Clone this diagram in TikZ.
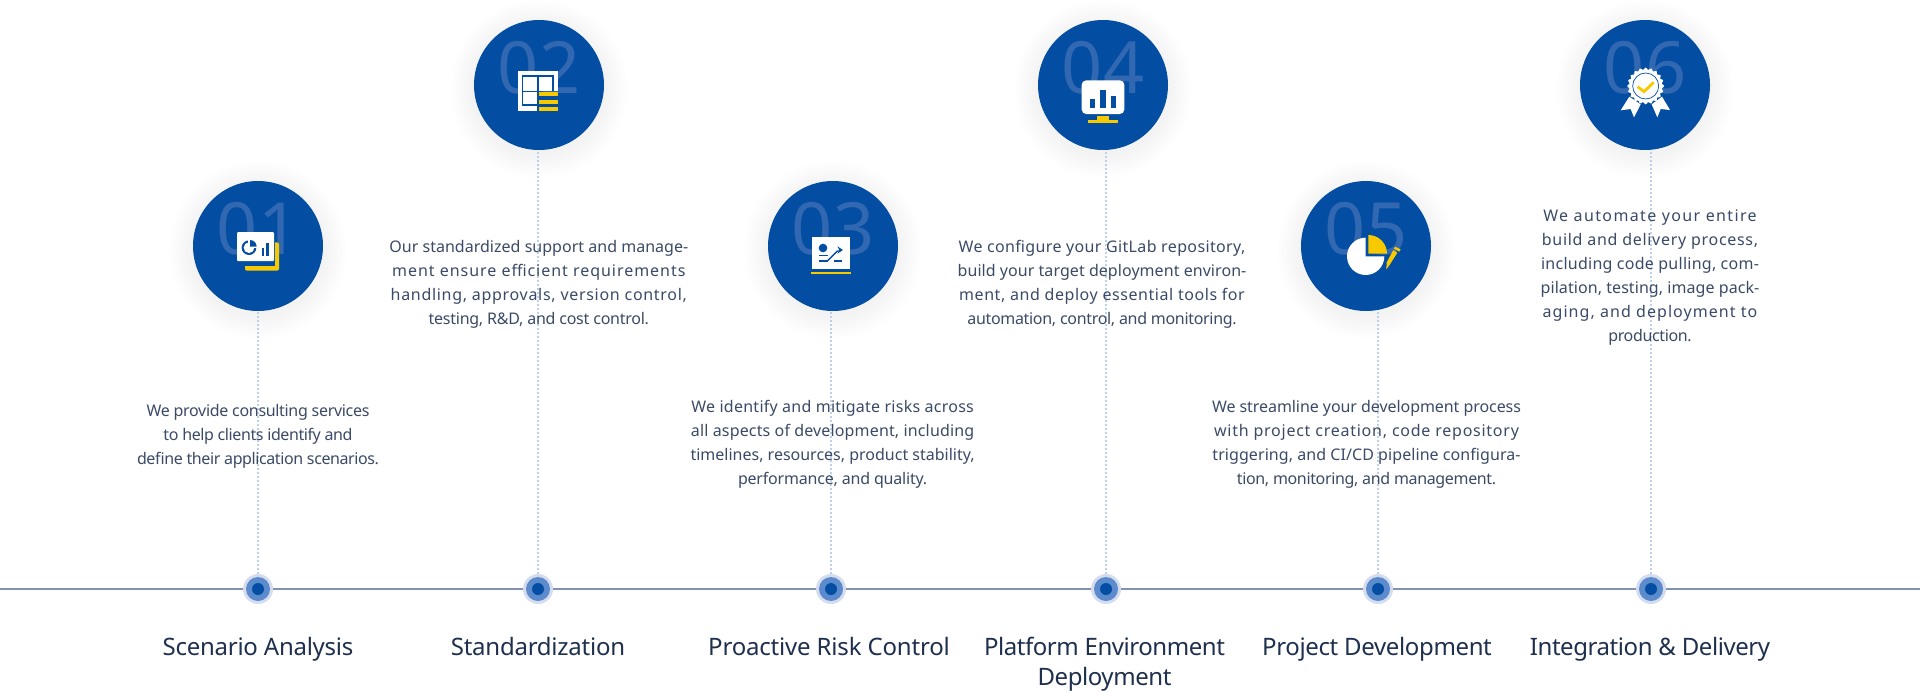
\documentclass[tikz,border=0pt]{standalone}
\usepackage{fontspec}
\setmainfont{Noto Sans}
\definecolor{brand}{HTML}{034EA2}
\definecolor{digit}{HTML}{3168B1}
\definecolor{gold}{HTML}{F9C900}
\definecolor{ink}{HTML}{3B4A66}
\definecolor{titleink}{HTML}{1F304E}
\definecolor{axis}{HTML}{8490B4}
\definecolor{drop}{HTML}{BDD0E9}
\definecolor{halo}{HTML}{D5DCEE}
\definecolor{ringc}{HTML}{5B8BCC}
% set one line to a given width W (px) by letter spacing: {W}{characters}{size}{text}
\newcommand{\fitline}[4]{\strut\begingroup\setbox0\hbox{#4}%
  \pgfmathsetmacro\lsv{(#1-\the\wd0)/(#2*#3)*100}%
  \addfontfeature{LetterSpace=\lsv}#4\endgroup}
\newcommand{\bl}[3]{\fitline{#1}{#2}{16}{#3}}
\newcommand{\hl}[3]{\fitline{#1}{#2}{24}{#3}}
\tikzset{
  x=1pt,y=-1pt,
  bubble/.style={circle,fill=brand,minimum size=130pt,inner sep=0pt,outer sep=0pt},
  numeral/.style={text=digit,font=\fontsize{72}{72}\selectfont,inner sep=0pt},
  stopdot/.style={circle,fill=halo,minimum size=30pt,inner sep=0pt,outer sep=0pt},
  dropline/.style={draw=drop,line width=1.5pt,dash pattern=on 2pt off 2pt},
  axisline/.style={draw=axis,line width=1.5pt},
  body/.style={text=ink,align=center,inner sep=0pt,font=\fontsize{16}{24}\selectfont},
  heading/.style={text=titleink,align=center,inner sep=0pt,font=\fontsize{24}{30}\selectfont},
}
\begin{document}
\begin{tikzpicture}
\useasboundingbox (0,0) rectangle (1920,691);
\fill[white] (0,0) rectangle (1920,691);
% bubbles
\foreach \i/\x/\y in {1/258/246,2/539/85,3/833/246,4/1103/85,5/1366/246,6/1645/85}{
  \foreach \r in {2,4,...,24}{\fill[black,opacity=.0028] (\x,\y+4) circle ({65+\r});}
  \node[bubble] (c\i) at (\x,\y) {};
  \node[numeral] (n\i) at (\x,\y-17) {0\i};
}
% axis
\coordinate (axisL) at (0,589);
\coordinate (axisR) at (1920,589);
\draw[axisline] (axisL) -- (axisR);
% stops
\foreach \i/\x in {1/258,2/538,3/831,4/1106,5/1378,6/1651}{
  \node[stopdot] (d\i) at (\x,589) {};
  \draw[dropline] (d\i) -- (d\i |- c\i.south);
  \fill[ringc] (d\i) circle (12);
  \fill[brand] (d\i) circle (6);
}
% text
\node[body] (t1) at (258,435.5) {\bl{221.6}{30}{We provide consulting services}\\\bl{187}{28}{to help clients identify and}\\\bl{240}{35}{define their application scenarios.}};
\node[body] (t2) at (538.8,283.2) {\bl{299}{36}{Our standardized support and manage-}\\\bl{299}{34}{ment ensure efficient requirements}\\\bl{299}{37}{handling, approvals, version control,}\\\bl{219}{31}{testing, R\&D, and cost control.}};
\node[body] (t3) at (832.6,443.4) {\bl{284}{37}{We identify and mitigate risks across}\\\bl{284}{37}{all aspects of development, including}\\\bl{284}{40}{timelines, resources, product stability,}\\\bl{188.6}{25}{performance, and quality.}};
\node[body] (t4) at (1102,283.2) {\bl{289}{36}{We configure your GitLab repository,}\\\bl{289}{37}{build your target deployment environ-}\\\bl{289}{36}{ment, and deploy essential tools for}\\\bl{268}{36}{automation, control, and monitoring.}};
\node[body] (t5) at (1366.5,443.4) {\bl{308.6}{38}{We streamline your development process}\\\bl{308.6}{38}{with project creation, code repository}\\\bl{308.6}{41}{triggering, and CI/CD pipeline configura-}\\\bl{258}{33}{tion, monitoring, and management.}};
\node[body] (t6) at (1650,276.7) {\bl{219}{23}{We automate your entire}\\\bl{219}{27}{build and delivery process,}\\\bl{219}{28}{including code pulling, com-}\\\bl{219}{30}{pilation, testing, image pack-}\\\bl{219}{24}{aging, and deployment to}\\\bl{83}{11}{production.}};
% titles
\node[heading] (h1) at (258,649) {\hl{190}{17}{Scenario Analysis}};
\node[heading] (h2) at (538,649) {\hl{174}{15}{Standardization}};
\node[heading] (h3) at (829,649) {\hl{241}{22}{Proactive Risk Control}};
\node[heading] (h4) at (1104.5,664) {\hl{240}{20}{Platform Environment}\\\hl{133.5}{10}{Deployment}};
\node[heading] (h5) at (1377,649) {\hl{229}{19}{Project Development}};
\node[heading] (h6) at (1650,649) {\hl{239}{22}{Integration \& Delivery}};
% icon 1
\begin{scope}[shift={(230,225)},scale=1/3]
  \fill[gold,rounded corners=2pt] (45,52) rectangle (147,137);
  \fill[brand] (30,35) rectangle (136,124);
  \fill[white,rounded corners=1pt] (21,21) rectangle (132,108);
  \fill[brand] (57,68) circle (22);
  \fill[white] (57,68) circle (16);
  \fill[white] (55,70) rectangle (86,40);
  \fill[brand] (60,65) -- (60,45) arc (-90:0:20) -- cycle;
  \fill[brand] (97,70) rectangle (103,92);
  \fill[brand] (108,55) rectangle (116,92);
\end{scope}
% icon 2
\begin{scope}[shift={(460,0)},scale=1/3]
  \fill[white] (174,213) rectangle (294,272);
  \fill[white] (174,213) rectangle (232,332);
  \fill[brand] (186,225) rectangle (282,272);
  \fill[brand] (186,225) rectangle (236,317);
  \fill[white] (190,232) rectangle (231,272);
  \fill[white] (236,232) rectangle (277,272);
  \fill[white] (190,277) rectangle (231,313);
  \fill[gold] (237,277) rectangle (294,288);
  \fill[gold] (237,300) rectangle (294,311);
  \fill[gold] (237,321) rectangle (294,332);
\end{scope}
% icon 3
\begin{scope}[shift={(750,170)},scale=1/3]
  \fill[white] (187,200) rectangle (300,297);
  \fill[gold] (183,305) rectangle (303,312);
  \fill[brand] (219,234) circle (13);
  \fill[brand] (206,254) rectangle (233,258);
  \fill[brand] (206,271) rectangle (233,275);
  \fill[brand] (252,271) rectangle (277,275);
  \draw[brand,line width=1.4pt] (233,272) -- (262,243) -- (272,243);
  \fill[brand] (279,240) -- (262,229) -- (268,240) -- (262,251) -- cycle;
\end{scope}
% icon 4
\begin{scope}[shift={(1020,0)},scale=1/3]
  \fill[white,rounded corners=4.5pt] (185,241) rectangle (313,342);
  \fill[brand] (209,297) rectangle (225,324);
  \fill[brand] (241,270) rectangle (257,324);
  \fill[brand] (273,288) rectangle (289,324);
  \fill[gold] (204,359) rectangle (294,368);
  \fill[gold] (231,349) rectangle (267,359);
\end{scope}
% icon 5
\begin{scope}[shift={(1280,170)},scale=1/3]
  \fill[white] (257,259) -- (257,203) arc (-90:-360:56) -- cycle;
  \fill[gold] (265,251) -- (265,195) arc (-90:0:56) -- cycle;
  \fill[gold] (340,240) -- (352,248) -- (328,286) -- (319,298) -- (320,277) -- cycle;
  \fill[gold] (345,230) -- (362,238) -- (358,245) -- (342,236) -- cycle;
\end{scope}
% icon 6
\begin{scope}[shift={(1570,0)},scale=1/3]
  \fill[white] (178,290) -- (152,331) -- (182,327) -- (192,352) -- (212,313) -- cycle;
  \fill[white] (276,290) -- (300,330) -- (272,327) -- (262,352) -- (245,313) -- cycle;
  \fill[white] plot[domain=0:360,samples=145] ({227+(52+3*cos(20*\x))*cos(\x)},{258+(52+3*cos(20*\x))*sin(\x)}) -- cycle;
  \draw[brand,line width=.7pt] (227,258) circle (39);
  \draw[gold,line width=2.8pt] (203,260) -- (222,275) -- (251,247);
\end{scope}
\end{tikzpicture}
\end{document}
